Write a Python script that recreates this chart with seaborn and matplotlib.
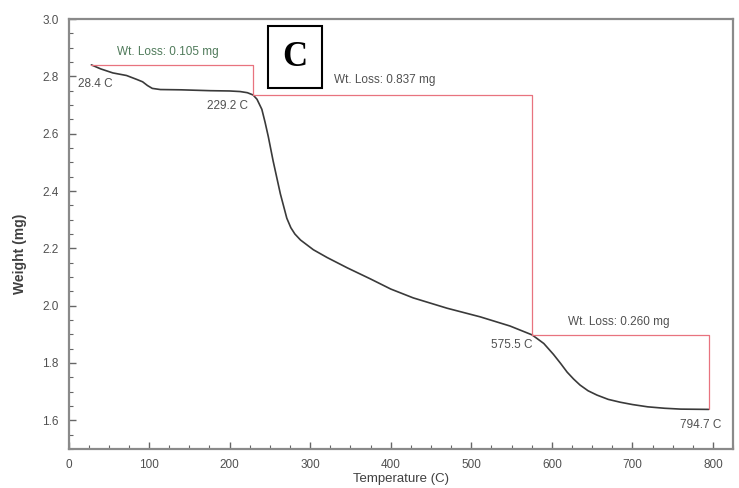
import matplotlib
matplotlib.use("Agg")
import matplotlib.pyplot as plt
from matplotlib.ticker import MultipleLocator
import numpy as np
import pandas as pd
import seaborn as sns

# TGA curve: temperature (C) vs sample weight (mg)
temperature = [28.4, 40, 55, 72, 85, 92, 98, 104, 114, 140, 176, 200, 213, 222,
               229.2, 234, 240, 244, 248, 254, 263, 271, 276, 281, 288, 296,
               304, 321, 346, 375, 400, 428, 470, 511, 548, 575.5, 590, 602,
               611, 619, 627, 635, 645, 656, 670, 685, 700, 719, 740, 760,
               794.7]
weight = [2.840, 2.826, 2.812, 2.803, 2.789, 2.781, 2.768, 2.758, 2.754, 2.753,
          2.750, 2.749, 2.747, 2.743, 2.735, 2.720, 2.685, 2.640, 2.590, 2.505,
          2.390, 2.305, 2.272, 2.250, 2.229, 2.212, 2.195, 2.168, 2.132, 2.093,
          2.058, 2.027, 1.991, 1.961, 1.929, 1.898, 1.868, 1.830, 1.798, 1.768,
          1.744, 1.723, 1.703, 1.688, 1.673, 1.663, 1.655, 1.647, 1.642, 1.639,
          1.638]

# Step analysis: onset temperatures and weight losses between them
onset_temps = [28.4, 229.2, 575.5, 794.7]
start_weight = 2.840
weight_losses = [0.105, 0.837, 0.260]

step_weights = [start_weight]
for loss in weight_losses:
    step_weights.append(step_weights[-1] - loss)

x_ticks = [0, 100, 200, 300, 400, 500, 600, 700, 800]
y_ticks = [1.6, 1.8, 2.0, 2.2, 2.4, 2.6, 2.8, 3.0]

sns.set_theme(style="white")
plt.rcParams["font.family"] = ["Liberation Sans", "DejaVu Sans"]

fig = plt.figure(figsize=(7.39, 4.88), dpi=100)
ax = fig.add_axes([0.0927, 0.080, 0.8993, 0.881])

df = pd.DataFrame({"Temperature": temperature, "Weight": weight})
sns.lineplot(data=df, x="Temperature", y="Weight", ax=ax, color="#3a3a3a",
             linewidth=1.2, sort=False)

# Step boxes: horizontal at the upper weight, drop at the end temperature
red = "#e8737f"
for i, loss in enumerate(weight_losses):
    t0, t1 = onset_temps[i], onset_temps[i + 1]
    w0, w1 = step_weights[i], step_weights[i + 1]
    ax.plot([t0, t1, t1], [w0, w0, w1], color=red, linewidth=0.9)

txt = dict(fontsize=8.5, color="#505050")
ax.text(12, 2.775, f"{onset_temps[0]:.1f} C", ha="left", va="center", **txt)
ax.text(223, 2.695, f"{onset_temps[1]:.1f} C", ha="right", va="center", **txt)
ax.text(576, 1.863, f"{onset_temps[2]:.1f} C", ha="right", va="center", **txt)
ax.text(785, 1.582, f"{onset_temps[3]:.1f} C", ha="center", va="center", **txt)

ax.text(123, 2.884, f"Wt. Loss: {weight_losses[0]:.3f} mg", ha="center",
        va="center", fontsize=8.5, color="#4f7a5a")
ax.text(393, 2.786, f"Wt. Loss: {weight_losses[1]:.3f} mg", ha="center",
        va="center", **txt)
ax.text(683, 1.944, f"Wt. Loss: {weight_losses[2]:.3f} mg", ha="center",
        va="center", **txt)

# Panel letter
ax.text(281, 2.867, "C", ha="center", va="center", fontsize=25,
        fontweight="bold", family=["Liberation Serif", "DejaVu Serif"],
        color="black",
        bbox=dict(boxstyle="square,pad=0.42", facecolor="white",
                  edgecolor="black", linewidth=1.5))

ax.set_xlim(0, 825)
ax.set_ylim(1.5, 3.0)
ax.set_xticks(x_ticks)
ax.set_yticks(y_ticks)
ax.set_yticklabels([f"{v:.1f}" for v in y_ticks])
ax.xaxis.set_minor_locator(MultipleLocator(25))
ax.yaxis.set_minor_locator(MultipleLocator(0.05))
ax.tick_params(which="both", direction="in", colors="#666666",
               labelcolor="#505050", labelsize=8.5)
ax.tick_params(which="major", length=5, width=1.0, pad=7)
ax.tick_params(which="minor", length=3, width=0.8)
ax.tick_params(axis="x", which="both", top=False, bottom=True)
ax.tick_params(axis="y", which="both", left=True, right=False)

for spine in ax.spines.values():
    spine.set_color("#8a8a8a")
    spine.set_linewidth(1.6)

ax.set_xlabel("Temperature (C)", fontsize=9.5, color="#404040")
ax.set_ylabel("Weight (mg)", fontsize=10, color="#404040", fontweight="bold")
ax.xaxis.set_label_coords(0.501, -0.056)
ax.yaxis.set_label_coords(-0.062, 0.455)

fig.savefig("out.png", dpi=100, facecolor="white")
